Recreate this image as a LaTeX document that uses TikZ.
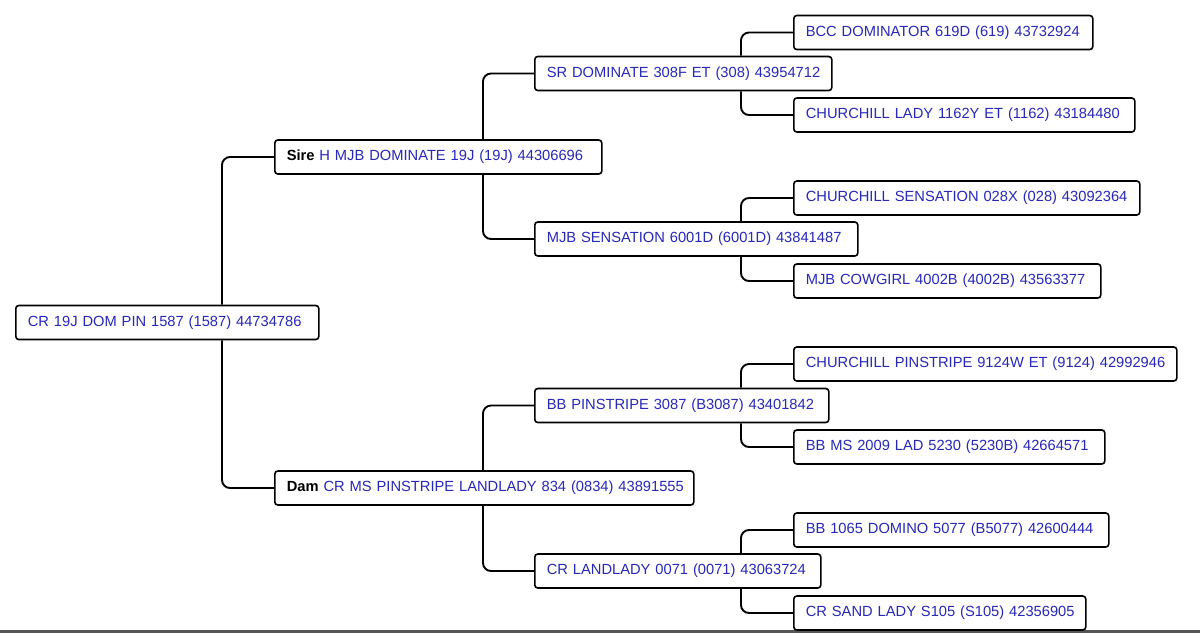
\documentclass[tikz,border=0pt]{standalone}
\usepackage{fontspec}
\setmainfont{Liberation Sans}
\usetikzlibrary{calc}
\definecolor{nametext}{RGB}{40,40,185}
\definecolor{edgegray}{RGB}{85,85,85}
\begin{document}
\begin{tikzpicture}[x=1pt,y=-1pt,
  pbox/.style={draw=black, line width=1.6pt, rounded corners=3pt, anchor=west,
    minimum height=34pt, inner xsep=12pt, inner ysep=0pt, align=left,
    text=nametext, fill=white, font=\fontsize{14.7}{17}\selectfont},
  conn/.style={draw=black, line width=1.9pt, rounded corners=8pt}]
\useasboundingbox (0,0) rectangle (1200,633);
\draw[edgegray, line width=3pt] (0,631.5) -- (1200,631.5);

% nodes
\node[pbox, text width=279pt] (root) at (15,322.5) {\mbox{CR 19J DOM PIN 1587 (1587) 44734786}};
\node[pbox, text width=303pt] (sire) at (274,157) {\mbox{\textcolor{black}{\textbf{Sire}} H MJB DOMINATE 19J (19J) 44306696}};
\node[pbox, text width=395pt] (dam) at (274,488) {\mbox{\textcolor{black}{\textbf{Dam}} CR MS PINSTRIPE LANDLADY 834 (0834) 43891555}};
\node[pbox, text width=273pt] (srdom) at (534,73.5) {\mbox{SR DOMINATE 308F ET (308) 43954712}};
\node[pbox, text width=299pt] (msens) at (534,239) {\mbox{MJB SENSATION 6001D (6001D) 43841487}};
\node[pbox, text width=270pt] (bbpin) at (534,405.5) {\mbox{BB PINSTRIPE 3087 (B3087) 43401842}};
\node[pbox, text width=262pt] (crland) at (534,571) {\mbox{CR LANDLADY 0071 (0071) 43063724}};
\node[pbox, text width=275pt] (bcc) at (793,32.5) {\mbox{BCC DOMINATOR 619D (619) 43732924}};
\node[pbox, text width=317pt] (chlady) at (793,115) {\mbox{CHURCHILL LADY 1162Y ET (1162) 43184480}};
\node[pbox, text width=322pt] (chsens) at (793,198) {\mbox{CHURCHILL SENSATION 028X (028) 43092364}};
\node[pbox, text width=283pt] (cowgirl) at (793,281) {\mbox{MJB COWGIRL 4002B (4002B) 43563377}};
\node[pbox, text width=359pt] (chpin) at (793,364) {\mbox{CHURCHILL PINSTRIPE 9124W ET (9124) 42992946}};
\node[pbox, text width=287pt] (bbms) at (793,447) {\mbox{BB MS 2009 LAD 5230 (5230B) 42664571}};
\node[pbox, text width=291pt] (bb1065) at (793,530) {\mbox{BB 1065 DOMINO 5077 (B5077) 42600444}};
\node[pbox, text width=268pt] (crsand) at (793,613) {\mbox{CR SAND LADY S105 (S105) 42356905}};

% connectors
\draw[conn] ([xshift=207pt]root.north west) |- (sire.west);
\draw[conn] ([xshift=207pt]root.south west) |- (dam.west);
\draw[conn] ([xshift=209pt]sire.north west) |- (srdom.west);
\draw[conn] ([xshift=209pt]sire.south west) |- (msens.west);
\draw[conn] ([xshift=209pt]dam.north west) |- (bbpin.west);
\draw[conn] ([xshift=209pt]dam.south west) |- (crland.west);
\draw[conn] ([xshift=207pt]srdom.north west) |- (bcc.west);
\draw[conn] ([xshift=207pt]srdom.south west) |- (chlady.west);
\draw[conn] ([xshift=207pt]msens.north west) |- (chsens.west);
\draw[conn] ([xshift=207pt]msens.south west) |- (cowgirl.west);
\draw[conn] ([xshift=207pt]bbpin.north west) |- (chpin.west);
\draw[conn] ([xshift=207pt]bbpin.south west) |- (bbms.west);
\draw[conn] ([xshift=207pt]crland.north west) |- (bb1065.west);
\draw[conn] ([xshift=207pt]crland.south west) |- (crsand.west);
\end{tikzpicture}
\end{document}
